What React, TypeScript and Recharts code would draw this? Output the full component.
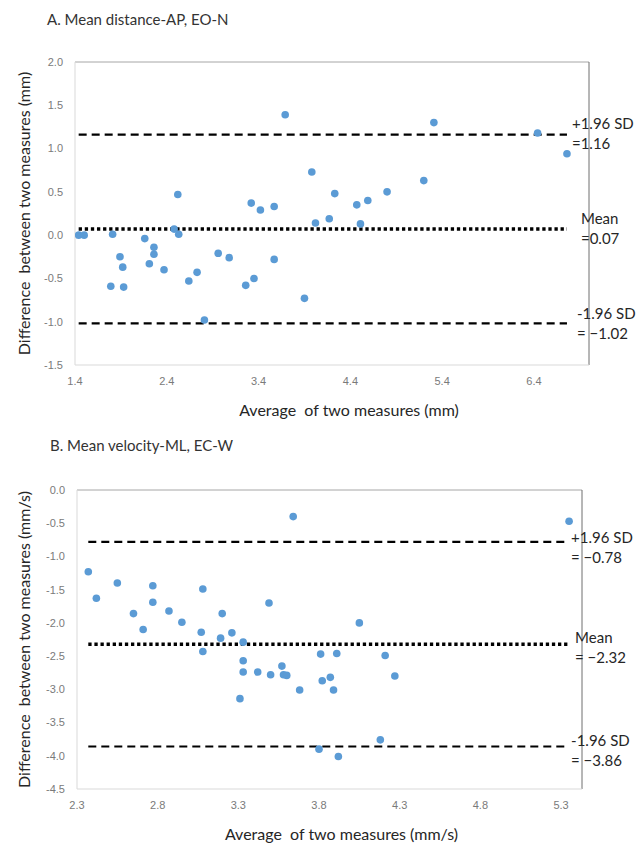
import React from 'react';
import { ScatterChart, Scatter, XAxis, YAxis, ReferenceLine, Label } from 'recharts';

// ---------- Panel A: Mean distance-AP, EO-N ----------
const aAvg = [1.44, 1.50, 1.81, 1.79, 1.89, 1.92, 1.93, 2.16, 2.26, 2.26, 2.21, 2.37, 2.48, 2.52, 2.53, 2.64, 2.73, 2.81, 2.96, 3.08, 3.26, 3.35, 3.32, 3.42, 3.57, 3.57, 3.69, 3.90, 3.98, 4.02, 4.17, 4.23, 4.47, 4.51, 4.59, 4.80, 5.20, 5.31, 6.44, 6.76];
const aDiff = [0.0, 0.0, 0.01, -0.59, -0.25, -0.37, -0.60, -0.04, -0.14, -0.22, -0.33, -0.40, 0.07, 0.47, 0.01, -0.53, -0.43, -0.98, -0.21, -0.26, -0.58, -0.50, 0.37, 0.29, 0.33, -0.28, 1.39, -0.73, 0.73, 0.14, 0.19, 0.48, 0.35, 0.13, 0.40, 0.50, 0.63, 1.30, 1.18, 0.94];
const aXTicks = [1.4, 2.4, 3.4, 4.4, 5.4, 6.4];
const aYTicks = [-1.5, -1.0, -0.5, 0.0, 0.5, 1.0, 1.5, 2.0];
const aXDomain = [1.4, 7.0];
const aYDomain = [-1.5, 2.0];
const aUpper = 1.16;
const aMean = 0.07;
const aLower = -1.02;
const aUpperText = ['+1.96 SD', '=1.16'];
const aMeanText = ['Mean', '=0.07'];
const aLowerText = ['-1.96 SD', '= \u22121.02'];

// ---------- Panel B: Mean velocity-ML, EC-W ----------
const bAvg = [2.37, 2.42, 2.55, 2.65, 2.71, 2.77, 2.77, 2.87, 2.95, 3.07, 3.08, 3.08, 3.19, 3.20, 3.26, 3.33, 3.33, 3.33, 3.31, 3.42, 3.49, 3.50, 3.57, 3.58, 3.60, 3.64, 3.68, 3.81, 3.82, 3.80, 3.87, 3.89, 3.91, 3.92, 4.05, 4.21, 4.27, 4.18, 5.35];
const bDiff = [-1.23, -1.63, -1.40, -1.86, -2.10, -1.44, -1.69, -1.82, -1.99, -2.14, -1.49, -2.43, -2.23, -1.86, -2.15, -2.29, -2.57, -2.74, -3.14, -2.74, -1.70, -2.78, -2.65, -2.78, -2.79, -0.40, -3.01, -2.47, -2.87, -3.90, -2.82, -3.01, -2.46, -4.01, -2.00, -2.49, -2.80, -3.76, -0.47];
const bXTicks = [2.3, 2.8, 3.3, 3.8, 4.3, 4.8, 5.3];
const bYTicks = [-4.5, -4.0, -3.5, -3.0, -2.5, -2.0, -1.5, -1.0, -0.5, 0.0];
const bXDomain = [2.3, 5.43];
const bYDomain = [-4.5, 0.0];
const bUpper = -0.78;
const bMean = -2.32;
const bLower = -3.86;
const bUpperText = ['+1.96 SD', '= \u22120.78'];
const bMeanText = ['Mean', '= \u22122.32'];
const bLowerText = ['-1.96 SD', '= \u22123.86'];

const FONT = 'Lato, "Open Sans", sans-serif';
const TICK_FONT = '"Liberation Sans", Arial, sans-serif';
const DOT = '#5B9BD5';

const toRows = (xs: number[], ys: number[]) => xs.map((x, i) => ({ x, y: ys[i] }));

const Dot = (p: any) => <circle cx={p.cx} cy={p.cy} r={3.8} fill={DOT} />;

const makeSideLabel = (lines: string[], dx: number, dy1: number, dy2: number) => (props: any) => {
  const vb = props.viewBox || { x: 0, y: 0, width: 0 };
  const x = vb.x + vb.width + dx;
  return (
    <g>
      <text x={x} y={vb.y + dy1} dominantBaseline="central" fontFamily={FONT} fontSize={15} fill="#262626">{lines[0]}</text>
      <text x={x} y={vb.y + dy2} dominantBaseline="central" fontFamily={FONT} fontSize={15} fill="#262626">{lines[1]}</text>
    </g>
  );
};

const makeXTitle = (text: string, dx: number, dy: number) => (props: any) => {
  const vb = props.viewBox || { x: 0, y: 0, width: 0, height: 0 };
  return (
    <text x={vb.x + vb.width / 2 + dx} y={vb.y + dy} textAnchor="middle" dominantBaseline="central"
      fontFamily={FONT} fontSize={16} fill="#262626" style={{ whiteSpace: 'pre' }}>{text}</text>
  );
};

const makeYTitle = (text: string, cx: number) => (props: any) => {
  const vb = props.viewBox || { x: 0, y: 0, width: 0, height: 0 };
  const cy = vb.y + vb.height / 2;
  return (
    <text x={cx} y={cy} textAnchor="middle" dominantBaseline="central" transform={`rotate(-90 ${cx} ${cy})`}
      fontFamily={FONT} fontSize={16} fill="#262626" style={{ whiteSpace: 'pre' }}>{text}</text>
  );
};

type PanelProps = {
  rows: { x: number; y: number }[];
  xTicks: number[];
  yTicks: number[];
  xDomain: number[];
  yDomain: number[];
  upper: number;
  mean: number;
  lower: number;
  upperText: string[];
  meanText: string[];
  lowerText: string[];
  margin: { top: number; right: number; bottom: number; left: number };
  xTitle: string;
  xTitleDx: number;
  yTitle: string;
  offsets: number[][];
};

const Panel = (p: PanelProps) => {
  const xs = p.rows.map((r) => r.x);
  const x0 = Math.min(...xs);
  const x1 = Math.max(...xs);
  const fmt = (v: number) => v.toFixed(1);
  return (
    <ScatterChart width={643} height={425} margin={p.margin}>
      <XAxis type="number" dataKey="x" domain={p.xDomain} ticks={p.xTicks} allowDataOverflow
        tickFormatter={fmt} tickLine={false} tickSize={0} tickMargin={12}
        axisLine={{ stroke: '#d9d9d9', strokeWidth: 1 }}
        tick={{ fontFamily: TICK_FONT, fontSize: 11, fill: '#7a7a7a' }} height={30}>
        <Label content={makeXTitle(p.xTitle, p.xTitleDx, 44)} />
      </XAxis>
      <YAxis type="number" dataKey="y" domain={p.yDomain} ticks={p.yTicks} allowDataOverflow
        tickFormatter={fmt} tickLine={false} tickSize={0} tickMargin={12}
        axisLine={{ stroke: '#d9d9d9', strokeWidth: 1 }}
        tick={{ fontFamily: TICK_FONT, fontSize: 11, fill: '#7a7a7a' }} width={40}>
        <Label content={makeYTitle(p.yTitle, 23)} />
      </YAxis>
      <ReferenceLine y={p.yDomain[1]} stroke="#a6a6a6" strokeWidth={1} />
      <ReferenceLine x={p.xDomain[1]} stroke="#6f6f6f" strokeWidth={1} />
      <ReferenceLine segment={[{ x: x0, y: p.upper }, { x: x1, y: p.upper }]} stroke="#000" strokeWidth={2.2} strokeDasharray="8 5"
        label={makeSideLabel(p.upperText, p.offsets[0][0], p.offsets[0][1], p.offsets[0][2])} />
      <ReferenceLine segment={[{ x: x0, y: p.mean }, { x: x1, y: p.mean }]} stroke="#000" strokeWidth={3.5} strokeDasharray="3.3 2.8"
        label={makeSideLabel(p.meanText, p.offsets[1][0], p.offsets[1][1], p.offsets[1][2])} />
      <ReferenceLine segment={[{ x: x0, y: p.lower }, { x: x1, y: p.lower }]} stroke="#000" strokeWidth={2.2} strokeDasharray="8 5"
        label={makeSideLabel(p.lowerText, p.offsets[2][0], p.offsets[2][1], p.offsets[2][2])} />
      <Scatter data={p.rows} shape={Dot} isAnimationActive={false} />
    </ScatterChart>
  );
};

const titleStyle: React.CSSProperties = {
  position: 'absolute',
  fontFamily: FONT,
  fontSize: 15,
  color: '#333',
  whiteSpace: 'pre',
  lineHeight: '18px',
};

export default function App() {
  return (
    <div style={{ position: 'absolute', left: 0, top: 0, width: 643, height: 850, background: '#fff', overflow: 'hidden' }}>
      <div style={{ position: 'absolute', left: 0, top: 0 }}>
        <Panel
          rows={toRows(aAvg, aDiff)}
          xTicks={aXTicks} yTicks={aYTicks} xDomain={aXDomain} yDomain={aYDomain}
          upper={aUpper} mean={aMean} lower={aLower}
          upperText={aUpperText} meanText={aMeanText} lowerText={aLowerText}
          margin={{ top: 62, right: 54, bottom: 30, left: 35 }}
          xTitle={'Average  of two measures (mm)'} xTitleDx={17}
          yTitle={'Difference  between two measures (mm)'}
          offsets={[[5, -12, 8], [14, -11, 9], [10, -10, 10]]}
        />
      </div>
      <div style={{ ...titleStyle, left: 47, top: 10 }}>A. Mean distance-AP, EO-N</div>
      <div style={{ position: 'absolute', left: 0, top: 425 }}>
        <Panel
          rows={toRows(bAvg, bDiff)}
          xTicks={bXTicks} yTicks={bYTicks} xDomain={bXDomain} yDomain={bYDomain}
          upper={bUpper} mean={bMean} lower={bLower}
          upperText={bUpperText} meanText={bMeanText} lowerText={bLowerText}
          margin={{ top: 65, right: 61, bottom: 31, left: 37 }}
          xTitle={'Average  of two measures (mm/s)'} xTitleDx={12}
          yTitle={'Difference  between two measures (mm/s)'}
          offsets={[[2, -5, 15], [6, -7, 13], [2, -6, 14]]}
        />
      </div>
      <div style={{ ...titleStyle, left: 50, top: 436 }}>B. Mean velocity-ML, EC-W</div>
    </div>
  );
}
